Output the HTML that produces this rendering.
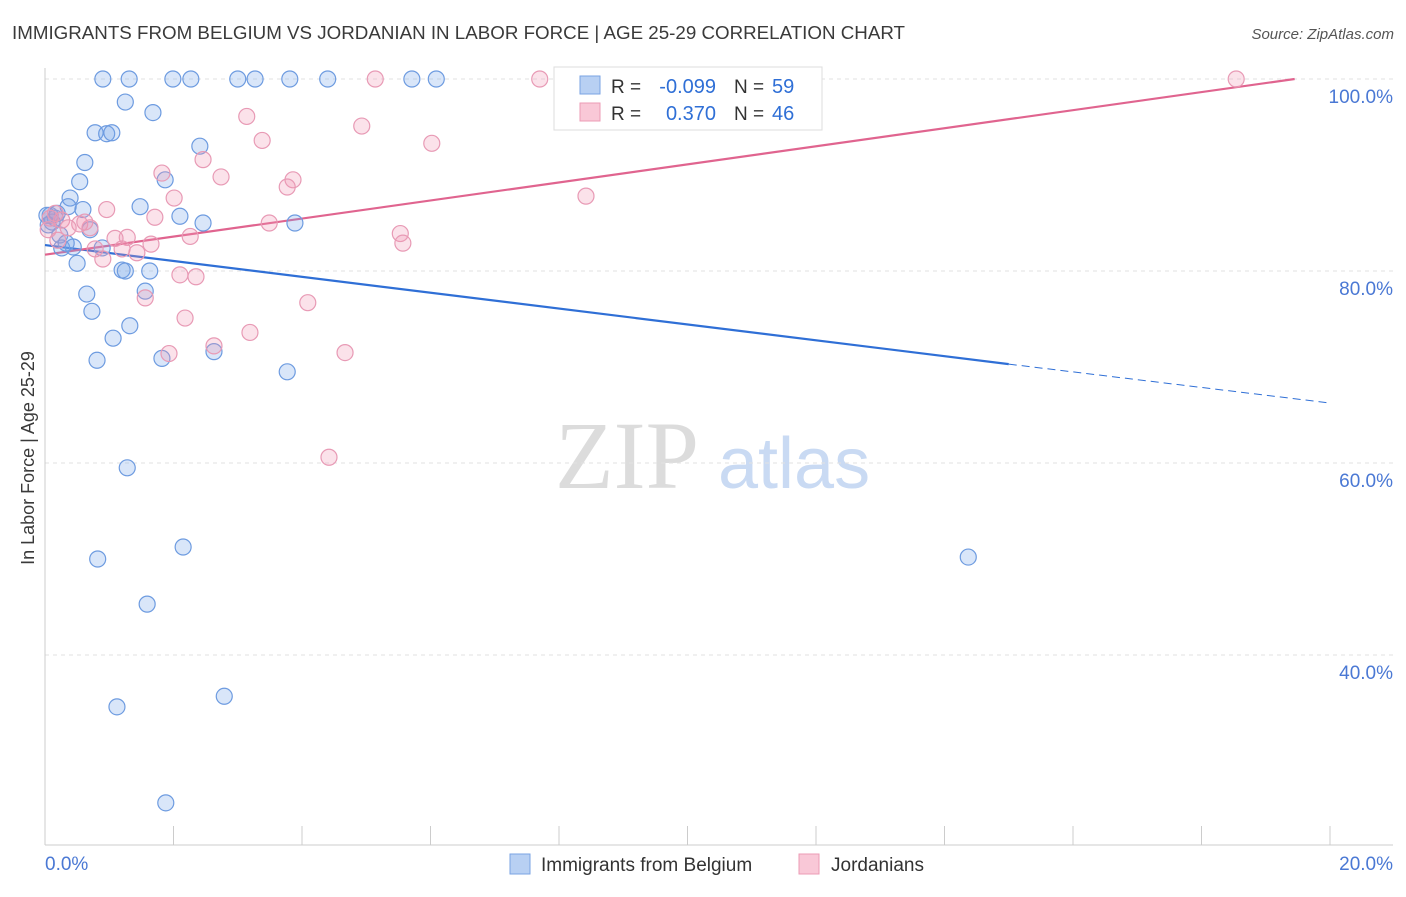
<!DOCTYPE html>
<html><head><meta charset="utf-8"><style>
body{margin:0;background:#fff;font-family:"Liberation Sans",sans-serif}
</style></head><body>
<svg width="1406" height="892" xmlns="http://www.w3.org/2000/svg" font-family="Liberation Sans, sans-serif">
<text x="12" y="39" font-size="18" fill="#3a3a3a" textLength="893" lengthAdjust="spacingAndGlyphs">IMMIGRANTS FROM BELGIUM VS JORDANIAN IN LABOR FORCE | AGE 25-29 CORRELATION CHART</text>
<text x="1394" y="39" font-size="15" fill="#555" text-anchor="end" font-style="italic">Source: ZipAtlas.com</text>
<g>
<text x="555" y="488" font-size="96" fill="#dcdcdc" font-family="Liberation Serif, serif">ZIP</text>
<text x="718" y="488" font-size="72" fill="#c9daf3">atlas</text>
</g>
<g id="grid"></g>
<g id="axes"></g>
<g id="lines"></g>
<g id="pts"></g>
<text transform="translate(34,458) rotate(-90)" font-size="18" fill="#3a3a3a" text-anchor="middle">In Labor Force | Age 25-29</text>
<g>
<rect x="554" y="67" width="268" height="63" fill="#fff" stroke="#ddd"/>
<rect x="580" y="76" width="20" height="18" fill="#b8d0f3" stroke="#7aa3e3"/>
<rect x="580" y="103" width="20" height="18" fill="#f9c8d7" stroke="#ec9bb6"/>
<text x="611" y="93" font-size="19" fill="#333">R =</text>
<text x="716" y="93" font-size="20" fill="#2f6fd6" text-anchor="end">-0.099</text>
<text x="734" y="93" font-size="19" fill="#333">N =</text>
<text x="772" y="93" font-size="20" fill="#2f6fd6">59</text>
<text x="611" y="120" font-size="19" fill="#333">R =</text>
<text x="716" y="120" font-size="20" fill="#2f6fd6" text-anchor="end">0.370</text>
<text x="734" y="120" font-size="19" fill="#333">N =</text>
<text x="772" y="120" font-size="20" fill="#2f6fd6">46</text>
</g>
<g>
<rect x="510" y="854" width="20" height="20" fill="#b8d0f3" stroke="#7aa3e3"/>
<text x="541" y="871" font-size="19" fill="#333">Immigrants from Belgium</text>
<rect x="799" y="854" width="20" height="20" fill="#f9c8d7" stroke="#ec9bb6"/>
<text x="831" y="871" font-size="19" fill="#333">Jordanians</text>
</g>
</svg>
<script>
const yTicks=[40,60,80,100];
const yTickLabels=["40.0%","60.0%","80.0%","100.0%"];
const xEndLabels=["0.0%","20.0%"];
const belgiumX=[0.90,1.31,1.99,2.27,3.00,3.27,3.81,4.40,5.71,6.09,1.25,1.68,0.78,0.96,1.04,2.41,0.62,0.54,0.39,1.87,1.48,2.10,2.46,3.89,0.59,0.36,0.08,0.16,0.11,0.23,0.70,0.26,0.44,0.89,0.50,1.20,1.25,1.63,0.65,1.56,0.73,1.32,1.06,0.81,1.82,2.63,3.77,1.28,0.82,2.15,1.59,2.79,1.12,1.88,14.37,0.03,0.19,0.05,0.33];
const belgiumY=[100,100,100,100,100,100,100,100,100,100,97.6,96.5,94.4,94.3,94.4,93.0,91.3,89.3,87.6,89.5,86.7,85.7,85.0,85.0,86.4,86.7,85.8,85.5,85.1,83.75,84.3,82.4,82.5,82.4,80.8,80.1,80.0,80.0,77.6,77.9,75.8,74.3,73.0,70.7,70.9,71.6,69.5,59.5,50.0,51.25,45.3,35.7,34.6,24.6,50.2,85.8,86.0,84.8,82.9];
const jordanX=[5.14,7.70,18.54,3.14,4.93,3.38,6.02,2.46,1.82,2.74,3.86,3.77,2.01,8.42,0.96,1.71,0.26,0.54,3.49,0.70,5.53,5.57,2.26,1.28,1.09,1.65,0.78,1.20,1.43,0.90,2.10,2.35,1.56,4.09,2.18,3.19,2.63,1.93,4.67,4.42,0.16,0.08,0.36,0.20,0.62,0.05];
const jordanY=[100,100,100,96.1,95.1,93.6,93.3,91.6,90.2,89.8,89.5,88.75,87.6,87.8,86.4,85.6,85.3,84.9,85.0,84.5,83.9,82.9,83.6,83.5,83.4,82.8,82.3,82.3,81.9,81.25,79.6,79.4,77.2,76.7,75.1,73.6,72.2,71.4,71.5,60.6,86.0,85.5,84.5,83.2,85.1,84.3];
const belgiumTrend=[[0,82.7],[15.0,70.3],[20,66.25]];
const jordanTrend=[[0,81.7],[19.45,100]];
const NS="http://www.w3.org/2000/svg";
const sx=v=>45+v*64.25, sy=v=>79+(100-v)*9.6;
function mk(t,a,p){const e=document.createElementNS(NS,t);for(const k in a)e.setAttribute(k,a[k]);p.appendChild(e);return e;}
const grid=document.getElementById('grid'),axes=document.getElementById('axes'),lines=document.getElementById('lines'),pts=document.getElementById('pts');
yTicks.forEach((t,i)=>{
 const l=mk('line',{x1:45,x2:1393,y1:sy(t),y2:sy(t),stroke:'#e2e2e2','stroke-dasharray':'4,4'},grid);
 
 
 const tx=mk('text',{x:1393,y:sy(t)+24,'font-size':19,fill:'#4a78d4','text-anchor':'end'},axes);
 tx.textContent=yTickLabels[i];
 
 
});
const ax=mk('line',{x1:45,x2:1393,y1:845,y2:845,stroke:'#ccc'},axes);


const ay=mk('line',{x1:45,x2:45,y1:68,y2:845,stroke:'#ccc'},axes);


for(let i=1;i<=10;i++){const t=mk('line',{x1:sx(i*2),x2:sx(i*2),y1:826,y2:845,stroke:'#ccc'},axes);
 
 }
[[0,'start',45],[20,'end',1393]].forEach((d,i)=>{const t=mk('text',{x:d[2],y:870,'font-size':19,fill:'#4a78d4','text-anchor':d[1]},axes);t.textContent=xEndLabels[i];
 
 });
function pl(a,b,c,dash){const e=mk('line',{x1:sx(a[0]),y1:sy(a[1]),x2:sx(b[0]),y2:sy(b[1]),stroke:c,'stroke-width':dash?1:2.2},lines);if(dash)e.setAttribute('stroke-dasharray','8,5');return e;}
let e=pl(belgiumTrend[0],belgiumTrend[1],'#2f6fd6');


e=pl(belgiumTrend[1],belgiumTrend[2],'#2f6fd6',true);


e=pl(jordanTrend[0],jordanTrend[1],'#e0648f');


belgiumX.forEach((x,i)=>{const c=mk('circle',{cx:sx(x),cy:sy(belgiumY[i]),r:8,fill:'rgba(120,165,235,0.28)',stroke:'#6d9be0','stroke-width':1.2},pts);
 
 });
jordanX.forEach((x,i)=>{const c=mk('circle',{cx:sx(x),cy:sy(jordanY[i]),r:8,fill:'rgba(240,150,180,0.28)',stroke:'#e89ab5','stroke-width':1.2},pts);
 
 });
</script>
</body></html>
